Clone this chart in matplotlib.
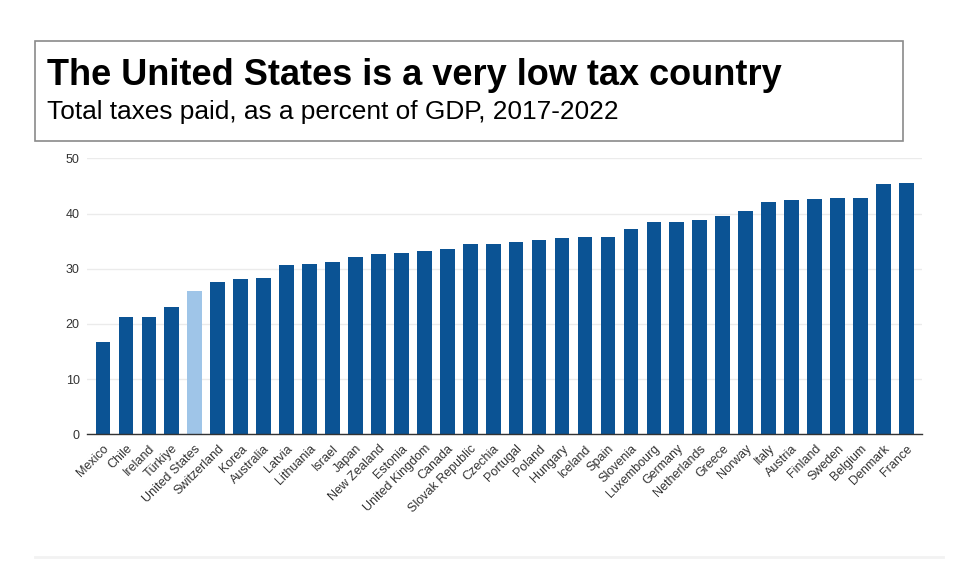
import matplotlib as mpl
mpl.use('Agg')
import matplotlib.pyplot as plt
from matplotlib.patches import Rectangle
from matplotlib.lines import Line2D

plt.rcParams['font.family'] = ['Liberation Sans', 'DejaVu Sans']

countries = ["Mexico", "Chile", "Ireland", "Türkiye", "United States", "Switzerland",
             "Korea", "Australia", "Latvia", "Lithuania", "Israel", "Japan",
             "New Zealand", "Estonia", "United Kingdom", "Canada", "Slovak Republic",
             "Czechia", "Portugal", "Poland", "Hungary", "Iceland", "Spain", "Slovenia",
             "Luxembourg", "Germany", "Netherlands", "Greece", "Norway", "Italy",
             "Austria", "Finland", "Sweden", "Belgium", "Denmark", "France"]
tax_pct = [16.7, 21.2, 21.2, 23.1, 26.0, 27.6,
           28.1, 28.4, 30.7, 30.8, 31.3, 32.1,
           32.7, 32.9, 33.3, 33.5, 34.4,
           34.4, 34.9, 35.2, 35.5, 35.7, 35.7, 37.2,
           38.4, 38.5, 38.8, 39.5, 40.4, 42.1,
           42.4, 42.6, 42.8, 42.8, 45.4, 45.5]
highlight = "United States"

dark_blue = "#0b5394"
light_blue = "#9fc5e8"
colors = [light_blue if c == highlight else dark_blue for c in countries]

fig = plt.figure(figsize=(9.63, 5.61), dpi=100)
ax = fig.add_axes([0.090, 0.2258, 0.8674, 0.4920])

x = range(len(countries))
ax.bar(x, tax_pct, width=0.64, color=colors, zorder=3)

ax.set_ylim(0, 50)
ax.set_xlim(-0.71, len(countries) - 0.32)
ax.set_yticks([0, 10, 20, 30, 40, 50])
ax.yaxis.grid(True, color="#ebebeb", linewidth=1, zorder=0)
ax.set_axisbelow(True)
for s in ["top", "right", "left"]:
    ax.spines[s].set_visible(False)
ax.spines["bottom"].set_color("#333333")
ax.spines["bottom"].set_linewidth(1)
ax.spines["bottom"].set_zorder(4)

ax.set_xticks(list(x))
ax.set_xticklabels(countries, rotation=45, ha="right", va="top",
                   rotation_mode="anchor", fontsize=9, color="#333333")
ax.tick_params(axis="x", length=0, pad=6)
ax.tick_params(axis="y", length=0, pad=5, labelsize=9, labelcolor="#333333")

# title box
box = Rectangle((35 / 963, 1 - 141 / 561), (903 - 35) / 963, (141 - 40.7) / 561,
                transform=fig.transFigure, fill=False, edgecolor="#8a8a8a",
                linewidth=1.2)
fig.add_artist(box)
fig.text(47 / 963, 1 - 85 / 561, "The United States is a very low tax country",
         fontsize=26, fontweight="bold", color="black", va="baseline")
fig.text(47 / 963, 1 - 119 / 561, "Total taxes paid, as a percent of GDP, 2017-2022",
         fontsize=18.9, color="black", va="baseline")

# faint bottom separator
fig.add_artist(Line2D([35 / 963, 943 / 963], [1 - 557 / 561, 1 - 557 / 561],
                      transform=fig.transFigure, color="#f2f2f2", linewidth=2))

fig.savefig("out.png", dpi=100)
